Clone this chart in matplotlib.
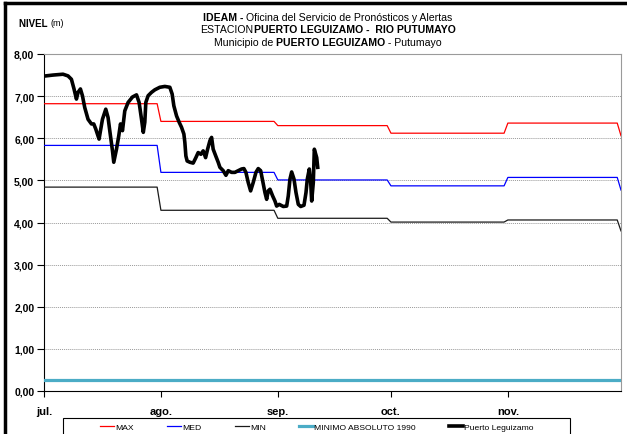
import matplotlib
matplotlib.use("Agg")
import matplotlib.pyplot as plt
from matplotlib.lines import Line2D
from matplotlib.patches import Rectangle
from matplotlib.ticker import FixedLocator, FuncFormatter

plt.rcParams['font.family'] = ['Liberation Sans Narrow', 'Liberation Sans', 'DejaVu Sans']

# ---------------------------------------------------------------------------------------
# Data (days counted from 1 July)

month_labels = ["jul.", "ago.", "sep.", "oct.", "nov."]
month_start_days = [0, 31, 62, 92, 123, 153]  # jul 1, ago 1, sep 1, oct 1, nov 1, dic 1

# Monthly reference levels (jul .. dic)
max_monthly = [6.82, 6.40, 6.30, 6.12, 6.36, 6.06]
med_monthly = [5.83, 5.19, 5.01, 4.87, 5.07, 4.77]
min_monthly = [4.84, 4.29, 4.10, 4.01, 4.06, 3.80]
minimo_absoluto_1990 = 0.26

# Observed level at Puerto Leguizamo
level_days = [0.45, 2.39, 5.04, 6.37, 7.27, 7.96, 8.60, 9.03, 9.66, 10.19,
              10.80, 11.68, 12.58, 13.19, 13.72, 14.60, 15.50, 16.38, 16.99, 17.44,
              18.16, 18.50, 19.22, 19.83, 20.28, 20.81, 21.42, 22.30, 23.47, 24.53,
              25.22, 25.86, 26.33, 26.73, 27.00, 27.61, 28.51, 29.39, 30.71, 32.04,
              33.37, 33.98, 34.43, 35.15, 35.84, 36.47, 37.09, 37.35, 37.62, 37.96,
              38.68, 39.55, 40.27, 40.88, 41.60, 42.21, 42.85, 43.38, 43.99, 44.44,
              44.86, 45.58, 46.19, 46.64, 47.52, 48.24, 48.85, 49.75, 50.62, 51.50,
              52.40, 53.01, 53.54, 54.15, 54.79, 55.48, 56.20, 56.81, 57.45, 57.98,
              58.59, 59.04, 59.46, 59.92, 60.63, 61.24, 61.69, 62.38, 63.45, 64.35,
              64.77, 65.22, 65.67, 66.29, 66.82, 67.43, 68.07, 68.94, 69.47, 69.82,
              70.35, 70.72, 70.98, 71.41, 71.68, 72.31, 72.58]
level_values = [7.48, 7.50, 7.52, 7.48, 7.40, 7.17, 6.93, 7.09, 7.17, 7.01,
                6.73, 6.45, 6.34, 6.34, 6.22, 5.98, 6.45, 6.69, 6.49, 6.18,
                5.70, 5.43, 5.74, 6.06, 6.34, 6.18, 6.65, 6.85, 6.98, 7.03,
                6.85, 6.45, 6.14, 6.38, 6.85, 7.01, 7.09, 7.15, 7.21, 7.23,
                7.21, 7.05, 6.77, 6.53, 6.38, 6.26, 6.10, 5.90, 5.58, 5.46,
                5.43, 5.41, 5.54, 5.66, 5.62, 5.70, 5.54, 5.74, 5.94, 6.02,
                5.74, 5.57, 5.43, 5.31, 5.23, 5.12, 5.23, 5.19, 5.19, 5.23,
                5.27, 5.28, 5.19, 4.95, 4.75, 4.95, 5.19, 5.28, 5.23, 4.99,
                4.71, 4.55, 4.75, 4.79, 4.63, 4.51, 4.39, 4.43, 4.38, 4.39,
                4.63, 5.03, 5.20, 5.03, 4.71, 4.43, 4.38, 4.41, 4.71, 5.03,
                5.27, 4.95, 4.51, 4.95, 5.74, 5.54, 5.31]

# ---------------------------------------------------------------------------------------

W, H = 627, 435


def monthly_steps(values):
    # Each month holds its value until its last day; the last value is the 1st of December
    xs, ys = [], []
    for i in range(len(month_start_days) - 1):
        xs += [month_start_days[i], month_start_days[i + 1] - 1]
        ys += [values[i], values[i]]
    xs.append(month_start_days[-1])
    ys.append(values[-1])
    return xs, ys


def rich_line(fig, y_px, pieces, center_px, size=7.6):
    # Draws a line of text made of regular/bold pieces, centred on center_px
    renderer = fig.canvas.get_renderer()
    texts = [fig.text(0, 1 - y_px / H, s, fontsize=size, fontweight=wt, va='center', ha='left')
             for s, wt in pieces]
    widths = [t.get_window_extent(renderer).width for t in texts]
    x = center_px - sum(widths) / 2
    for t, w in zip(texts, widths):
        t.set_x(x / W)
        x += w


fig = plt.figure(figsize=(W / 100, H / 100), dpi=100)
ax = fig.add_axes([44 / W, 1 - 392 / H, (621 - 44) / W, (392 - 55) / H])

x, y = monthly_steps(max_monthly)
ax.plot(x, y, color="#FF0000", lw=0.9, label="MAX", zorder=3)
x, y = monthly_steps(med_monthly)
ax.plot(x, y, color="#0000FF", lw=0.9, label="MED", zorder=3)
x, y = monthly_steps(min_monthly)
ax.plot(x, y, color="#1a1a1a", lw=0.9, label="MIN", zorder=3)
ax.plot([month_start_days[0], month_start_days[-1]], [minimo_absoluto_1990] * 2,
        color="#4BACC6", lw=2.3, label="MINIMO ABSOLUTO 1990", zorder=3)
ax.plot(level_days, level_values, color="black", lw=2.6, solid_joinstyle="round",
        label="Puerto Leguizamo", zorder=4)

ax.set_xlim(0, 153)
ax.set_ylim(0, 8)

# Axes styling
ax.yaxis.set_major_locator(FixedLocator(range(0, 9)))
ax.yaxis.set_major_formatter(FuncFormatter(lambda v, p: f"{v:.2f}".replace(".", ",")))
ax.set_xticks(month_start_days[:5])
ax.set_xticklabels(month_labels)
ax.tick_params(axis="y", direction="out", length=5, width=0.8, pad=2, labelsize=7.5)
ax.tick_params(axis="x", direction="out", length=4, width=0.8, pad=7, labelsize=8)
for lab in ax.get_xticklabels() + ax.get_yticklabels():
    lab.set_fontweight("bold")
ax.grid(axis="y", color="#9a9a9a", linestyle=(0, (1, 1)), linewidth=0.7)
ax.set_axisbelow(True)
ax.spines["left"].set_color("black")
ax.spines["bottom"].set_color("black")
ax.spines["top"].set_color("#9a9a9a")
ax.spines["right"].set_color("#9a9a9a")

# Titles
rich_line(fig, 18, [("IDEAM - ", "bold"), ("Oficina del Servicio de Pronósticos y Alertas", "normal")], 328)
rich_line(fig, 30, [("ESTACION", "normal"), ("PUERTO LEGUIZAMO -  RIO PUTUMAYO", "bold")], 328)
rich_line(fig, 43, [("Municipio de ", "normal"), ("PUERTO LEGUIZAMO", "bold"), (" - Putumayo", "normal")], 328)

renderer = fig.canvas.get_renderer()
t1 = fig.text(19 / W, 1 - 24 / H, "NIVEL ", fontsize=7, fontweight="bold", va="center")
w1 = t1.get_window_extent(renderer).width
fig.text((19 + w1) / W, 1 - 24 / H, "(m)", fontsize=6.5, va="center")

# Legend: frame drawn separately, entries spread over the box
fig.add_artist(Rectangle((62.7 / W, -0.05), (570 - 62.7) / W, 1 - 419 / H + 0.05, fill=False,
                         edgecolor="black", lw=0.8, transform=fig.transFigure, zorder=5))
handles, labels = ax.get_legend_handles_labels()
leg = fig.legend(handles, labels, loc="center", ncol=5, mode="expand",
                 bbox_to_anchor=(100 / W, 1 - 428 / H - 0.01, (534 - 100) / W, 0.02),
                 fontsize=6.1, handlelength=1.7, handletextpad=0.15, borderpad=0,
                 borderaxespad=0, frameon=False)

# Outer frame of the image (left and top edges visible)
fig.add_artist(Line2D([5 / W, 5 / W], [0, 1 - 4 / H], color="black", lw=2.5, transform=fig.transFigure))
fig.add_artist(Line2D([5 / W, 1], [1 - 4 / H, 1 - 4 / H], color="black", lw=2.5, transform=fig.transFigure))

fig.savefig("out.png", dpi=100)
